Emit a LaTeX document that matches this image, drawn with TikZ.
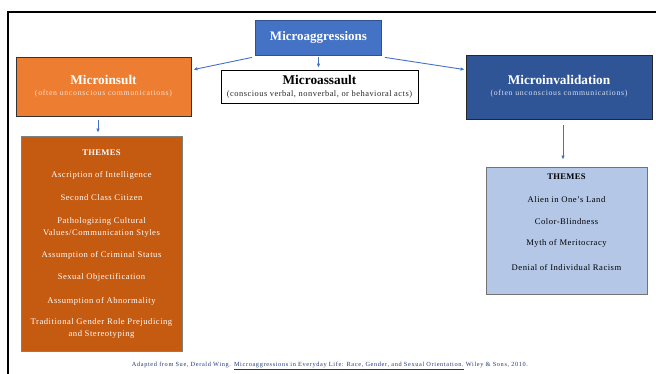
\documentclass[tikz,border=0pt]{standalone}
\usepackage{fontspec}
\setmainfont{Liberation Serif}
\usetikzlibrary{arrows.meta,calc}
\definecolor{aggrblue}{HTML}{4472C4}
\definecolor{aggrline}{HTML}{2F528F}
\definecolor{insorange}{HTML}{ED7D31}
\definecolor{insdark}{HTML}{C55A11}
\definecolor{invblue}{HTML}{2F5597}
\definecolor{invlight}{HTML}{B4C7E7}
\definecolor{subor}{HTML}{FBE0CE}
\definecolor{subbl}{HTML}{D6E0F2}
\definecolor{footblue}{HTML}{1F3A7A}
\tikzset{
  box/.style={rectangle, inner sep=0pt, line width=0.8pt},
  conn/.style={draw=aggrblue, line width=0.9pt, -{Latex[length=4pt,width=3.6pt]}},
  ttl/.style={font=\bfseries\fontsize{13.3}{15}\selectfont, inner sep=0pt},
  sub/.style={font=\addfontfeature{LetterSpace=9}\fontsize{7.8}{9}\selectfont, inner sep=0pt},
  theme/.style={font=\addfontfeature{LetterSpace=6}\fontsize{8.6}{12}\selectfont, inner sep=0pt, align=center},
  themehead/.style={font=\bfseries\addfontfeature{LetterSpace=3}\fontsize{8.6}{10}\selectfont, inner sep=0pt}
}
\begin{document}
\begin{tikzpicture}[x=1pt,y=-1pt]
\useasboundingbox (0,0) rectangle (656,374);
\fill[white] (0,0) rectangle (656,374);
\draw[line width=1.8pt] (656,12) -- (8,12) -- (8,374);

% main boxes
\node[box, draw=aggrline, fill=aggrblue, minimum width=126pt, minimum height=35pt] (aggr) at (318.5,37.5) {};
\node[ttl, text=white, font=\bfseries\fontsize{13}{15}\selectfont] (aggrt) at (318.5,37.5) {Microaggressions};

\node[box, draw=black!80, fill=insorange, minimum width=175pt, minimum height=59pt] (insult) at (103.5,86.5) {};
\node[ttl, text=white] (insultt) at (103.5,80) {Microinsult};
\node[sub, text=subor] (insults) at (103.5,93.5) {(often unconscious communications)};

\node[box, draw=black, fill=white, minimum width=197pt, minimum height=33pt] (assault) at (319.5,86.5) {};
\node[ttl, text=black] (assaultt) at (319.5,80) {Microassault};
\node[sub, text=black!85, font=\addfontfeature{LetterSpace=6}\fontsize{8.4}{9}\selectfont] (assaults) at (319.5,94) {(conscious verbal, nonverbal, or behavioral acts)};

\node[box, draw=black!85, fill=invblue, minimum width=186pt, minimum height=64pt] (inval) at (559,87) {};
\node[ttl, text=white] (invalt) at (559,80) {Microinvalidation};
\node[sub, text=subbl] (invals) at (559,93.5) {(often unconscious communications)};

% theme boxes
\node[box, draw=black!50, fill=insdark, minimum width=161pt, minimum height=215pt] (insthemes) at (101.5,243.5) {};
\begin{scope}[every node/.style={text=white}]
\node[themehead] (ih) at (101.5,153) {THEMES};
\node[theme] (i1) at (101.5,175) {Ascription of Intelligence};
\node[theme] (i2) at (101.5,198) {Second Class Citizen};
\node[theme] (i3) at (101.5,227) {Pathologizing Cultural\\Values/Communication Styles};
\node[theme] (i4) at (101.5,255) {Assumption of Criminal Status};
\node[theme] (i5) at (101.5,277) {Sexual Objectification};
\node[theme] (i6) at (101.5,301) {Assumption of Abnormality};
\node[theme] (i7) at (101.5,328) {Traditional Gender Role Prejudicing\\and Stereotyping};
\end{scope}

\node[box, draw=black!55, fill=invlight, minimum width=161pt, minimum height=127pt] (invthemes) at (566.5,230.5) {};
\node[themehead] (vh) at (566.5,177) {THEMES};
\node[theme] (v1) at (566.5,199.5) {Alien in One's Land};
\node[theme] (v2) at (566.5,221.5) {Color-Blindness};
\node[theme] (v3) at (566.5,243.5) {Myth of Meritocracy};
\node[theme] (v4) at (566.5,267.5) {Denial of Individual Racism};

% connectors
\draw[conn] ($(aggr.south west)+(-3,2)$) -- ($(insult.north east)+(2,13)$);
\draw[conn] ($(aggr.south)+(0,2)$) -- ($(assault.north)+(-1,-2)$);
\draw[conn] ($(aggr.south east)+(3,2)$) -- ($(inval.north west)+(-1,15)$);
\draw[conn] ($(insult.south)+(-5.5,4)$) -- ($(insthemes.north)+(-3.5,-3)$);
\draw[conn] ($(inval.south)+(4,6)$) -- ($(invthemes.north)+(-3.5,-7)$);

% footer
\node[inner sep=0pt, text=footblue, font=\addfontfeature{LetterSpace=10}\fontsize{6.3}{7}\selectfont] (foot) at (330,366) {Adapted from Sue, Derald Wing. \underline{Microaggressions in Everyday Life: Race, Gender, and Sexual Orientation.} Wiley \& Sons, 2010.};
\end{tikzpicture}
\end{document}
